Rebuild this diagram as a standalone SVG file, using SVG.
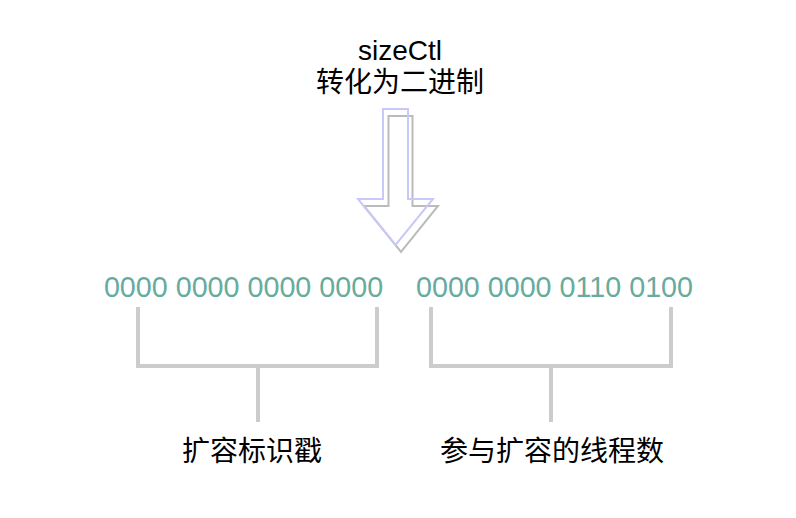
<svg xmlns="http://www.w3.org/2000/svg" width="796" height="518" viewBox="0 0 796 518">
<style>
.t{font-family:"Liberation Sans","Noto Sans CJK SC",sans-serif;font-size:28px;text-anchor:middle;fill:#000}
.bits{fill:#67AB9F;font-size:28.7px}
.br{fill:none;stroke:#CCCCCC;stroke-width:4}
</style>
<rect width="796" height="518" fill="#fff"/>
<g id="title">
<text class="t" x="400" y="60">sizeCtl</text>
<text class="t" x="400" y="92">转化为二进制</text>
</g>
<g id="arrow">
<polygon points="388.5,116 412.5,116 412.5,206 438,206 401,252 364,206 388.5,206" fill="none" stroke="#BBBBBB" stroke-width="2"/>
<polygon points="383,109 408,109 408,199 433,199 395.5,245 358,199 383,199" fill="none" stroke="#C8C8FA" stroke-width="2"/>
</g>
<g id="high-bits"><text class="t bits" x="243.5" y="296.5">0000 0000 0000 0000</text></g>
<g id="low-bits"><text class="t bits" x="554.5" y="296.5">0000 0000 0110 0100</text></g>
<g id="connectors">
<polyline class="br" points="138,307 138,366 377,366 377,307"/>
<line class="br" x1="258" y1="366" x2="258" y2="422"/>
<polyline class="br" points="431,307 431,366 671,366 671,307"/>
<line class="br" x1="551" y1="366" x2="551" y2="422"/>
</g>
<g id="label-left"><text class="t" x="252" y="461">扩容标识戳</text></g>
<g id="label-right"><text class="t" x="552" y="461">参与扩容的线程数</text></g>
</svg>
